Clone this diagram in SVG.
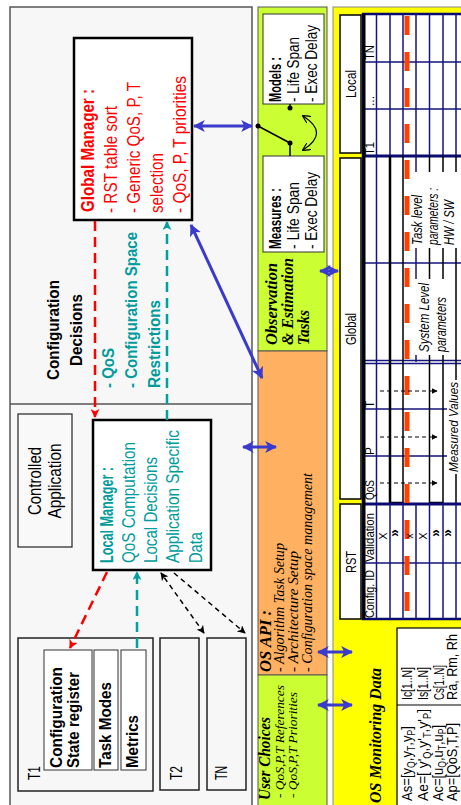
<svg xmlns="http://www.w3.org/2000/svg" width="461" height="805" viewBox="0 0 461 805">
<defs>
<style>
.sa{font-family:"Liberation Sans",Arial,sans-serif}
.se{font-family:"Liberation Serif","Times New Roman",serif}
.b{font-weight:bold}
.i{font-style:italic}
.red{fill:#ff0000}
.teal{fill:#009c9c}
.nav{stroke:#14147d;stroke-width:1.5;fill:none}
.bl{stroke:#000;stroke-width:1.5;fill:none}
.box{fill:#fff;stroke:#000;stroke-width:2.5}
.tbox{fill:#f7f7f7;stroke:#222;stroke-width:1.5}
.mbox{fill:#fff;stroke:#333;stroke-width:1}
.lbox{fill:#fff;stroke:#000;stroke-width:1.5}
.wbg{fill:#fff;stroke:none}
.blue{stroke:#3a3acc;stroke-width:3;fill:none;marker-start:url(#bh);marker-end:url(#bh)}
.rdash{stroke:#ff0000;stroke-width:2.5;fill:none;stroke-dasharray:10 6;marker-end:url(#rh)}
.tdash{stroke:#00a0a0;stroke-width:2.5;fill:none;stroke-dasharray:10 6;marker-end:url(#th)}
.kdash{stroke:#000;stroke-width:1.5;fill:none;stroke-dasharray:5 4;marker-end:url(#kh)}
.sdash{stroke:#000;stroke-width:1;fill:none;stroke-dasharray:4 3;marker-end:url(#sh)}
</style>
<marker id="bh" viewBox="0 0 10 10" refX="9" refY="5" markerWidth="12" markerHeight="12" markerUnits="userSpaceOnUse" orient="auto-start-reverse"><path d="M0,0 L10,5 L0,10 L2.5,5 z" fill="#3a3acc"/></marker>
<marker id="rh" viewBox="0 0 10 10" refX="9" refY="5" markerWidth="9" markerHeight="9" markerUnits="userSpaceOnUse" orient="auto-start-reverse"><path d="M0,0 L10,5 L0,10 L2.5,5 z" fill="#ff0000"/></marker>
<marker id="th" viewBox="0 0 10 10" refX="9" refY="5" markerWidth="9" markerHeight="9" markerUnits="userSpaceOnUse" orient="auto-start-reverse"><path d="M0,0 L10,5 L0,10 L2.5,5 z" fill="#00a0a0"/></marker>
<marker id="kh" viewBox="0 0 10 10" refX="9" refY="5" markerWidth="8" markerHeight="8" markerUnits="userSpaceOnUse" orient="auto-start-reverse"><path d="M0,0 L10,5 L0,10 L2.5,5 z" fill="#000"/></marker>
<marker id="sh" viewBox="0 0 10 10" refX="9" refY="5" markerWidth="6" markerHeight="6" markerUnits="userSpaceOnUse" orient="auto-start-reverse"><path d="M0,0 L10,5 L0,10 z" fill="#000"/></marker>
<marker id="oh" viewBox="0 0 10 10" refX="9" refY="5" markerWidth="8" markerHeight="8" markerUnits="userSpaceOnUse" orient="auto-start-reverse"><path d="M0,0 L10,5 L0,10" fill="none" stroke="#000" stroke-width="1.5"/></marker>
</defs>
<rect width="461" height="805" fill="#fff"/>

<!-- Left panel -->
<g id="left-panel">
<rect x="10" y="7" width="242" height="810" fill="#f7f7f7" stroke="#555" stroke-width="1.5"/>
<line x1="10" y1="404" x2="252" y2="404" stroke="#555" stroke-width="1.5"/>
<text class="sa b" font-size="16" text-anchor="middle" x="59" y="330" transform="rotate(-90 59 330)" textLength="100" lengthAdjust="spacingAndGlyphs">Configuration</text>
<text class="sa b" font-size="16" text-anchor="middle" x="82" y="330" transform="rotate(-90 82 330)" textLength="72" lengthAdjust="spacingAndGlyphs">Decisions</text>
<text class="sa b teal" font-size="17" x="114" y="388" transform="rotate(-90 114 388)" textLength="40" lengthAdjust="spacingAndGlyphs">- QoS</text>
<text class="sa b teal" font-size="17" x="137" y="388" transform="rotate(-90 137 388)" textLength="156" lengthAdjust="spacingAndGlyphs">- Configuration Space</text>
<text class="sa b teal" font-size="17" x="160" y="388" transform="rotate(-90 160 388)" textLength="88" lengthAdjust="spacingAndGlyphs">Restrictions</text>
</g>

<g id="global-manager">
<rect class="box" x="74" y="38" width="118" height="182"/>
<text class="sa b red" font-size="18" x="94" y="212" transform="rotate(-90 94 212)" textLength="123" lengthAdjust="spacingAndGlyphs">Global Manager :</text>
<text class="sa red" font-size="18" x="117" y="213" transform="rotate(-90 117 213)" textLength="107" lengthAdjust="spacingAndGlyphs">- RST table sort</text>
<text class="sa red" font-size="18" x="140" y="213" transform="rotate(-90 140 213)" textLength="131" lengthAdjust="spacingAndGlyphs">- Generic QoS, P, T</text>
<text class="sa red" font-size="18" x="163" y="213" transform="rotate(-90 163 213)" textLength="60" lengthAdjust="spacingAndGlyphs">selection</text>
<text class="sa red" font-size="18" x="186" y="213" transform="rotate(-90 186 213)" textLength="137" lengthAdjust="spacingAndGlyphs">- QoS, P, T priorities</text>
</g>

<g id="controlled-application">
<rect x="18" y="414" width="54" height="133" fill="#f9f9f9" stroke="#222" stroke-width="1.2"/>
<text class="sa" font-size="18" text-anchor="middle" x="41" y="481" transform="rotate(-90 41 481)" textLength="68" lengthAdjust="spacingAndGlyphs">Controlled</text>
<text class="sa" font-size="18" text-anchor="middle" x="61" y="481" transform="rotate(-90 61 481)" textLength="75" lengthAdjust="spacingAndGlyphs">Application</text>
</g>

<g id="local-manager">
<rect class="box" x="93" y="420" width="118" height="150"/>
<text class="sa b teal" font-size="18" x="113" y="563" transform="rotate(-90 113 563)" textLength="96" lengthAdjust="spacingAndGlyphs">Local Manager :</text>
<text class="sa teal" font-size="18" x="135" y="563" transform="rotate(-90 135 563)" textLength="121" lengthAdjust="spacingAndGlyphs">QoS Computation</text>
<text class="sa teal" font-size="18" x="157" y="563" transform="rotate(-90 157 563)" textLength="106" lengthAdjust="spacingAndGlyphs">Local Decisions</text>
<text class="sa teal" font-size="18" x="179" y="563" transform="rotate(-90 179 563)" textLength="133" lengthAdjust="spacingAndGlyphs">Application Specific</text>
<text class="sa teal" font-size="18" x="202" y="563" transform="rotate(-90 202 563)" textLength="31" lengthAdjust="spacingAndGlyphs">Data</text>
</g>

<g id="task-t1">
<rect class="tbox" x="18" y="638" width="135" height="153"/>
<text class="sa" font-size="17" x="40" y="780" transform="rotate(-90 40 780)" textLength="14" lengthAdjust="spacingAndGlyphs">T1</text>
<rect class="mbox" x="44" y="650" width="48" height="120"/>
<rect class="mbox" x="94" y="650" width="24" height="120"/>
<rect class="mbox" x="121" y="650" width="25" height="120"/>
<text class="sa b" font-size="16" x="62" y="768" transform="rotate(-90 62 768)" textLength="101" lengthAdjust="spacingAndGlyphs">Configuration</text>
<text class="sa b" font-size="16" x="79" y="768" transform="rotate(-90 79 768)" textLength="96" lengthAdjust="spacingAndGlyphs">State register</text>
<text class="sa b" font-size="16" x="111" y="768" transform="rotate(-90 111 768)" textLength="86" lengthAdjust="spacingAndGlyphs">Task Modes</text>
<text class="sa b" font-size="16" x="138" y="768" transform="rotate(-90 138 768)" textLength="53" lengthAdjust="spacingAndGlyphs">Metrics</text>
</g>
<g id="task-t2">
<rect class="tbox" x="160" y="638" width="39" height="152"/>
<text class="sa" font-size="17" x="182" y="780" transform="rotate(-90 182 780)" textLength="14" lengthAdjust="spacingAndGlyphs">T2</text>
</g>
<g id="task-tn">
<rect class="tbox" x="207" y="638" width="39" height="152"/>
<text class="sa" font-size="17" x="227" y="780" transform="rotate(-90 227 780)" textLength="14" lengthAdjust="spacingAndGlyphs">TN</text>
</g>

<!-- Observation & Estimation -->
<g id="observation-tasks">
<rect x="258" y="7" width="69" height="344" fill="#ccff33" stroke="#555" stroke-width="1"/>
<text class="se b i" font-size="16" x="277" y="345" transform="rotate(-90 277 345)" textLength="82" lengthAdjust="spacingAndGlyphs">Observation</text>
<text class="se b i" font-size="16" x="293" y="345" transform="rotate(-90 293 345)" textLength="87" lengthAdjust="spacingAndGlyphs">&amp; Estimation</text>
<text class="se b i" font-size="16" x="309" y="345" transform="rotate(-90 309 345)" textLength="35" lengthAdjust="spacingAndGlyphs">Tasks</text>
</g>
<g id="models">
<rect class="mbox" x="263" y="14" width="61" height="90"/>
<text class="sa b" font-size="16" x="281" y="102" transform="rotate(-90 281 102)" textLength="45" lengthAdjust="spacingAndGlyphs">Models :</text>
<text class="sa" font-size="16" x="299" y="102" transform="rotate(-90 299 102)" textLength="65" lengthAdjust="spacingAndGlyphs">- Life Span</text>
<text class="sa" font-size="16" x="317" y="102" transform="rotate(-90 317 102)" textLength="77" lengthAdjust="spacingAndGlyphs">- Exec Delay</text>
</g>
<g id="measures">
<rect class="mbox" x="263" y="156" width="61" height="96"/>
<text class="sa b" font-size="16" x="281" y="249" transform="rotate(-90 281 249)" textLength="61" lengthAdjust="spacingAndGlyphs">Measures :</text>
<text class="sa" font-size="16" x="299" y="249" transform="rotate(-90 299 249)" textLength="67" lengthAdjust="spacingAndGlyphs">- Life Span</text>
<text class="sa" font-size="16" x="317" y="249" transform="rotate(-90 317 249)" textLength="77" lengthAdjust="spacingAndGlyphs">- Exec Delay</text>
</g>

<g id="os-api">
<rect x="258" y="351" width="69" height="324" fill="#ffb061" stroke="#555" stroke-width="1"/>
<text class="se b i" font-size="17" x="271" y="672" transform="rotate(-90 271 672)" textLength="62" lengthAdjust="spacingAndGlyphs">OS API :</text>
<text class="se i" font-size="14" x="284" y="672" transform="rotate(-90 284 672)" textLength="129" lengthAdjust="spacingAndGlyphs">- Algorithm Task Setup</text>
<text class="se i" font-size="14" x="298" y="672" transform="rotate(-90 298 672)" textLength="121" lengthAdjust="spacingAndGlyphs">- Architecture Setup</text>
<text class="se i" font-size="14" x="312" y="672" transform="rotate(-90 312 672)" textLength="199" lengthAdjust="spacingAndGlyphs">- Configuration space management</text>
</g>

<g id="user-choices">
<rect x="258" y="675" width="69" height="140" fill="#ccff33" stroke="#555" stroke-width="1"/>
<text class="se b i" font-size="17" x="270" y="800" transform="rotate(-90 270 800)" textLength="83" lengthAdjust="spacingAndGlyphs">User Choices</text>
<text class="se i" font-size="13" x="284" y="798" transform="rotate(-90 284 798)" textLength="113" lengthAdjust="spacingAndGlyphs">- QoS,P,T References</text>
<text class="se i" font-size="13" x="297" y="798" transform="rotate(-90 297 798)" textLength="106" lengthAdjust="spacingAndGlyphs">- QoS,P,T Priorities</text>
</g>

<!-- Yellow panel and RST table -->
<g id="rst-table">
<rect x="333" y="7" width="140" height="810" fill="#ffff00" stroke="#888" stroke-width="1"/>
<rect class="lbox" x="340" y="15" width="21" height="138"/>
<rect class="lbox" x="340" y="158" width="21" height="341"/>
<rect class="lbox" x="340" y="504" width="21" height="115"/>
<text class="sa" font-size="14" text-anchor="middle" x="356" y="84" transform="rotate(-90 356 84)" textLength="28" lengthAdjust="spacingAndGlyphs">Local</text>
<text class="sa" font-size="14" text-anchor="middle" x="356" y="329" transform="rotate(-90 356 329)" textLength="32" lengthAdjust="spacingAndGlyphs">Global</text>
<text class="sa" font-size="14" text-anchor="middle" x="356" y="562" transform="rotate(-90 356 562)" textLength="22" lengthAdjust="spacingAndGlyphs">RST</text>
<rect x="363" y="14" width="110" height="605" fill="#fff" stroke="#0a0a70" stroke-width="2.5"/>
<!-- Local grid -->
<path class="nav" d="M376.5,14V156 M390,14V156 M403,14V156 M416,14V156 M429.5,14V156 M443,14V156 M456,14V156 M363,62H461 M363,109H461"/>
<line x1="363" y1="156" x2="461" y2="156" stroke="#0a0a70" stroke-width="3"/>
<!-- Global grid -->
<path class="nav" d="M376.5,156V504 M416,156V362 M363,263H461 M363,360.5H461 M363,363.5H461 M363,409H461 M363,456H461"/>
<path class="bl" d="M390,156V503 M403,156V503 M429.5,156V503 M443,156V503 M456,156V504 M390,502.5H403 M429.5,502.5H443"/>
<path d="M390,156V503" stroke="#000" stroke-width="2.5"/>
<line x1="363" y1="504" x2="461" y2="504" stroke="#0a0a70" stroke-width="3"/>
<!-- RST grid -->
<path class="nav" d="M376.5,504V619 M390,504V619 M403,504V619 M416,504V619 M429.5,504V619 M443,504V619 M456,504V619 M363,563H461"/>
<line x1="364" y1="14" x2="364" y2="619" stroke="#000" stroke-width="3"/>
<line x1="407" y1="16" x2="407" y2="619" stroke="#ff4000" stroke-width="5" stroke-dasharray="19 17"/>
<!-- text backgrounds -->
<rect class="wbg" x="411" y="172" width="50" height="76"/>
<rect class="wbg" x="413" y="279" width="36" height="76"/>
<rect class="wbg" x="447" y="380" width="14" height="94"/>
<text class="sa" font-size="12" x="374" y="60" transform="rotate(-90 374 60)" textLength="15" lengthAdjust="spacingAndGlyphs">TN</text>
<text class="sa" font-size="12" x="374" y="106" transform="rotate(-90 374 106)">...</text>
<text class="sa" font-size="12" x="374" y="155" transform="rotate(-90 374 155)" textLength="13" lengthAdjust="spacingAndGlyphs">T1</text>
<text class="sa" font-size="12" x="374" y="408" transform="rotate(-90 374 408)">T</text>
<text class="sa" font-size="12" x="374" y="455" transform="rotate(-90 374 455)">P</text>
<text class="sa" font-size="12" x="374" y="500" transform="rotate(-90 374 500)" textLength="20" lengthAdjust="spacingAndGlyphs">QoS</text>
<text class="sa" font-size="12" x="374" y="562" transform="rotate(-90 374 562)" textLength="49" lengthAdjust="spacingAndGlyphs">Validation</text>
<text class="sa" font-size="12" x="374" y="618" transform="rotate(-90 374 618)" textLength="48" lengthAdjust="spacingAndGlyphs">Config. ID</text>
<text class="sa i" font-size="14" x="422" y="245" transform="rotate(-90 422 245)" textLength="50" lengthAdjust="spacingAndGlyphs">Task level</text>
<text class="sa i" font-size="14" x="438" y="245" transform="rotate(-90 438 245)" textLength="57" lengthAdjust="spacingAndGlyphs">parameters :</text>
<text class="sa i" font-size="14" x="454" y="245" transform="rotate(-90 454 245)" textLength="45" lengthAdjust="spacingAndGlyphs">HW / SW</text>
<text class="sa i" font-size="14" x="429" y="352" transform="rotate(-90 429 352)" textLength="69" lengthAdjust="spacingAndGlyphs">System Level</text>
<text class="sa i" font-size="14" x="446" y="352" transform="rotate(-90 446 352)" textLength="55" lengthAdjust="spacingAndGlyphs">parameters</text>
<text class="sa i" font-size="13" x="457.5" y="472" transform="rotate(-90 457.5 472)" textLength="90" lengthAdjust="spacingAndGlyphs">Measured Values</text>
<text class="sa" font-size="11" text-anchor="middle" x="387" y="536" transform="rotate(-90 387 536)">X</text>
<text class="sa b" font-size="14" text-anchor="middle" x="399" y="533" transform="rotate(-90 399 533)">»</text>
<text class="sa" font-size="10" text-anchor="middle" x="413" y="536" transform="rotate(-90 413 536)">x</text>
<text class="sa" font-size="11" text-anchor="middle" x="427" y="536" transform="rotate(-90 427 536)">X</text>
<text class="sa b" font-size="14" text-anchor="middle" x="440" y="533" transform="rotate(-90 440 533)">»</text>
<text class="sa b" font-size="14" text-anchor="middle" x="452" y="533" transform="rotate(-90 452 533)">»</text>
</g>

<g id="os-monitoring-data">
<text class="se b i" font-size="16" x="381" y="803" transform="rotate(-90 381 803)" textLength="135" lengthAdjust="spacingAndGlyphs">OS Monitoring Data</text>
<rect x="397" y="628" width="80" height="190" fill="#fff" stroke="#000" stroke-width="1.2"/>
<line x1="397" y1="705" x2="461" y2="705" stroke="#000" stroke-width="1.2"/>
<text class="sa" font-size="15" x="412" y="700" transform="rotate(-90 412 700)" textLength="33" lengthAdjust="spacingAndGlyphs">Ic[1..N]</text>
<text class="sa" font-size="15" x="428" y="700" transform="rotate(-90 428 700)" textLength="33" lengthAdjust="spacingAndGlyphs">Is[1..N]</text>
<text class="sa" font-size="15" x="444" y="700" transform="rotate(-90 444 700)" textLength="35" lengthAdjust="spacingAndGlyphs">Cs[1..N]</text>
<text class="sa" font-size="14" x="457" y="700" transform="rotate(-90 457 700)" textLength="66" lengthAdjust="spacingAndGlyphs">Ra, Rm, Rh</text>
<text class="sa" font-size="15" x="412" y="801" transform="rotate(-90 412 801)" textLength="75" lengthAdjust="spacingAndGlyphs">As=[y<tspan font-size="10" dy="3">Q</tspan><tspan dy="-3">,y</tspan><tspan font-size="10" dy="3">T</tspan><tspan dy="-3">,y</tspan><tspan font-size="10" dy="3">P</tspan><tspan dy="-3">]</tspan></text>
<text class="sa" font-size="15" x="428" y="801" transform="rotate(-90 428 801)" textLength="92" lengthAdjust="spacingAndGlyphs">Ae=[ y'<tspan font-size="10" dy="3">Q</tspan><tspan dy="-3">,y'</tspan><tspan font-size="10" dy="3">T</tspan><tspan dy="-3">,y'</tspan><tspan font-size="10" dy="3">P</tspan><tspan dy="-3">]</tspan></text>
<text class="sa" font-size="15" x="443" y="801" transform="rotate(-90 443 801)" textLength="76" lengthAdjust="spacingAndGlyphs">Ac=[u<tspan font-size="10" dy="3">Q</tspan><tspan dy="-3">,u</tspan><tspan font-size="10" dy="3">T</tspan><tspan dy="-3">,u</tspan><tspan font-size="10" dy="3">P</tspan><tspan dy="-3">]</tspan></text>
<text class="sa" font-size="14" x="456.5" y="801" transform="rotate(-90 456.5 801)" textLength="78" lengthAdjust="spacingAndGlyphs">Ap=[QoS,T,P]</text>
</g>

<!-- Connectors -->
<g id="connectors">
<line class="blue" x1="194" y1="126" x2="252" y2="126"/>
<line class="blue" x1="191" y1="225" x2="262" y2="378"/>
<line class="blue" x1="243" y1="447" x2="276" y2="447"/>
<line class="blue" x1="320" y1="271" x2="338" y2="271"/>
<line class="blue" x1="318" y1="652" x2="352" y2="652"/>
<line class="blue" x1="318" y1="705" x2="352" y2="705"/>
<path class="rdash" d="M95,221 V417"/>
<path class="rdash" d="M107,572 L70,648"/>
<path class="tdash" d="M167,420 V222"/>
<path class="tdash" d="M137,648 V572"/>
<path class="kdash" d="M204,633 L161,573" marker-start="url(#kh)"/>
<path class="kdash" d="M174,573 L245,633"/>
<path class="sdash" d="M380,391 H437"/>
<path class="sdash" d="M380,437 H437"/>
<path class="sdash" d="M380,483 H437"/>
<path d="M258,126 L290,143 V156 M290,104 V108" stroke="#000" stroke-width="1.5" fill="none"/>
<circle cx="258" cy="126" r="2.5"/>
<circle cx="290" cy="143" r="2.5"/>
<circle cx="290" cy="108" r="2.5"/>
<path d="M303,116 Q330,133 303,150" stroke="#000" stroke-width="1.2" fill="none" marker-start="url(#oh)" marker-end="url(#oh)"/>
</g>
</svg>
